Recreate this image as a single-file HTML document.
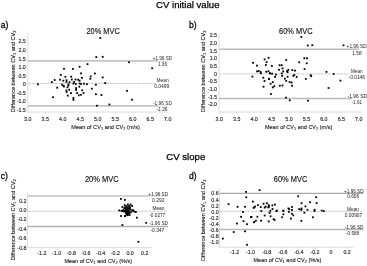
<!DOCTYPE html>
<html><head><meta charset="utf-8"><title>Bland-Altman plots</title>
<style>
html,body{margin:0;padding:0;background:#fff;}
body{width:367px;height:266px;overflow:hidden;}
svg{display:block;font-family:"Liberation Sans", sans-serif;filter:blur(0.35px);}
</style></head>
<body>
<svg width="367" height="266" viewBox="0 0 367 266">
<rect width="367" height="266" fill="#fff"/>
<text transform="translate(187.75,7.60) scale(1,1.0)" font-size="9.6" text-anchor="middle" fill="#000" font-weight="normal" textLength="63.50" lengthAdjust="spacingAndGlyphs" stroke="#000" stroke-width="0.25">CV initial value</text>
<text transform="translate(185.75,160.20) scale(1,1.0)" font-size="9.6" text-anchor="middle" fill="#000" font-weight="normal" textLength="39.10" lengthAdjust="spacingAndGlyphs" stroke="#000" stroke-width="0.25">CV slope</text>
<text transform="translate(0.80,28.00) scale(1,1.12)" font-size="8.6" text-anchor="start" fill="#000" font-weight="normal" stroke="#000" stroke-width="0.25">a)</text>
<text transform="translate(86.50,33.75) scale(1,1.12)" font-size="7.4" text-anchor="start" fill="#111" font-weight="normal" textLength="33.25" lengthAdjust="spacingAndGlyphs" stroke="#111" stroke-width="0.12">20% MVC</text>
<line x1="27.80" y1="32.50" x2="27.80" y2="112.00" stroke="#dcdcdc" stroke-width="1"/>
<line x1="27.80" y1="112.00" x2="169.00" y2="112.00" stroke="#dcdcdc" stroke-width="1"/>
<line x1="27.80" y1="112.00" x2="27.80" y2="113.50" stroke="#dcdcdc" stroke-width="1"/>
<text transform="translate(27.80,121.00) scale(1,1.12)" font-size="5.3" text-anchor="middle" fill="#222" font-weight="normal" stroke="#222" stroke-width="0.12">3.0</text>
<line x1="45.30" y1="112.00" x2="45.30" y2="113.50" stroke="#dcdcdc" stroke-width="1"/>
<text transform="translate(45.30,121.00) scale(1,1.12)" font-size="5.3" text-anchor="middle" fill="#222" font-weight="normal" stroke="#222" stroke-width="0.12">3.5</text>
<line x1="62.80" y1="112.00" x2="62.80" y2="113.50" stroke="#dcdcdc" stroke-width="1"/>
<text transform="translate(62.80,121.00) scale(1,1.12)" font-size="5.3" text-anchor="middle" fill="#222" font-weight="normal" stroke="#222" stroke-width="0.12">4.0</text>
<line x1="80.30" y1="112.00" x2="80.30" y2="113.50" stroke="#dcdcdc" stroke-width="1"/>
<text transform="translate(80.30,121.00) scale(1,1.12)" font-size="5.3" text-anchor="middle" fill="#222" font-weight="normal" stroke="#222" stroke-width="0.12">4.5</text>
<line x1="97.80" y1="112.00" x2="97.80" y2="113.50" stroke="#dcdcdc" stroke-width="1"/>
<text transform="translate(97.80,121.00) scale(1,1.12)" font-size="5.3" text-anchor="middle" fill="#222" font-weight="normal" stroke="#222" stroke-width="0.12">5.0</text>
<line x1="115.30" y1="112.00" x2="115.30" y2="113.50" stroke="#dcdcdc" stroke-width="1"/>
<text transform="translate(115.30,121.00) scale(1,1.12)" font-size="5.3" text-anchor="middle" fill="#222" font-weight="normal" stroke="#222" stroke-width="0.12">5.5</text>
<line x1="132.80" y1="112.00" x2="132.80" y2="113.50" stroke="#dcdcdc" stroke-width="1"/>
<text transform="translate(132.80,121.00) scale(1,1.12)" font-size="5.3" text-anchor="middle" fill="#222" font-weight="normal" stroke="#222" stroke-width="0.12">6.0</text>
<line x1="150.30" y1="112.00" x2="150.30" y2="113.50" stroke="#dcdcdc" stroke-width="1"/>
<text transform="translate(150.30,121.00) scale(1,1.12)" font-size="5.3" text-anchor="middle" fill="#222" font-weight="normal" stroke="#222" stroke-width="0.12">6.5</text>
<line x1="167.80" y1="112.00" x2="167.80" y2="113.50" stroke="#dcdcdc" stroke-width="1"/>
<text transform="translate(167.80,121.00) scale(1,1.12)" font-size="5.3" text-anchor="middle" fill="#222" font-weight="normal" stroke="#222" stroke-width="0.12">7.0</text>
<text transform="translate(25.80,43.46) scale(1,1.12)" font-size="5.3" text-anchor="end" fill="#222" font-weight="normal" stroke="#222" stroke-width="0.12">2.5</text>
<text transform="translate(25.80,52.01) scale(1,1.12)" font-size="5.3" text-anchor="end" fill="#222" font-weight="normal" stroke="#222" stroke-width="0.12">2.0</text>
<text transform="translate(25.80,60.56) scale(1,1.12)" font-size="5.3" text-anchor="end" fill="#222" font-weight="normal" stroke="#222" stroke-width="0.12">1.5</text>
<text transform="translate(25.80,69.11) scale(1,1.12)" font-size="5.3" text-anchor="end" fill="#222" font-weight="normal" stroke="#222" stroke-width="0.12">1.0</text>
<text transform="translate(25.80,77.66) scale(1,1.12)" font-size="5.3" text-anchor="end" fill="#222" font-weight="normal" stroke="#222" stroke-width="0.12">0.5</text>
<text transform="translate(25.80,86.21) scale(1,1.12)" font-size="5.3" text-anchor="end" fill="#222" font-weight="normal" stroke="#222" stroke-width="0.12">0</text>
<text transform="translate(25.80,94.76) scale(1,1.12)" font-size="5.3" text-anchor="end" fill="#222" font-weight="normal" stroke="#222" stroke-width="0.12">-0.5</text>
<text transform="translate(25.80,103.31) scale(1,1.12)" font-size="5.3" text-anchor="end" fill="#222" font-weight="normal" stroke="#222" stroke-width="0.12">-1.0</text>
<text transform="translate(25.80,111.86) scale(1,1.12)" font-size="5.3" text-anchor="end" fill="#222" font-weight="normal" stroke="#222" stroke-width="0.12">-1.5</text>
<line x1="27.80" y1="60.90" x2="158.00" y2="60.90" stroke="#c3c3c3" stroke-width="1.6"/>
<line x1="27.80" y1="105.85" x2="158.00" y2="105.85" stroke="#c3c3c3" stroke-width="1.6"/>
<line x1="27.80" y1="83.45" x2="155.50" y2="83.45" stroke="#cacaca" stroke-width="1.0" stroke-dasharray="3.2,0.7"/>
<line x1="158.00" y1="61.20" x2="168.00" y2="61.20" stroke="#d2d2d2" stroke-width="0.9"/>
<line x1="158.00" y1="106.10" x2="168.00" y2="106.10" stroke="#d2d2d2" stroke-width="0.9"/>
<text transform="translate(162.38,59.76) scale(1,1.12)" font-size="4.6" text-anchor="middle" fill="#222" font-weight="normal" textLength="19.25" lengthAdjust="spacingAndGlyphs">+1.96 SD</text>
<text transform="translate(162.50,65.86) scale(1,1.12)" font-size="4.6" text-anchor="middle" fill="#222" font-weight="normal" textLength="9.00" lengthAdjust="spacingAndGlyphs">1.36</text>
<text transform="translate(162.55,82.36) scale(1,1.12)" font-size="4.6" text-anchor="middle" fill="#222" font-weight="normal" textLength="12.10" lengthAdjust="spacingAndGlyphs">Mean</text>
<text transform="translate(161.75,87.66) scale(1,1.12)" font-size="4.6" text-anchor="middle" fill="#222" font-weight="normal" textLength="15.00" lengthAdjust="spacingAndGlyphs">0.0499</text>
<text transform="translate(162.45,104.86) scale(1,1.12)" font-size="4.6" text-anchor="middle" fill="#222" font-weight="normal" textLength="18.90" lengthAdjust="spacingAndGlyphs">-1.96 SD</text>
<text transform="translate(162.00,111.26) scale(1,1.12)" font-size="4.6" text-anchor="middle" fill="#222" font-weight="normal" textLength="11.00" lengthAdjust="spacingAndGlyphs">-1.26</text>
<text transform="translate(71.30,128.70) scale(1,1.12)" font-size="5.5" text-anchor="start" fill="#222" font-weight="normal" textLength="68.55" lengthAdjust="spacingAndGlyphs" stroke="#222" stroke-width="0.12">Mean of CV<tspan font-size="3.85" dy="1.10">1</tspan><tspan dy="-1.10"> </tspan>and CV<tspan font-size="3.85" dy="1.10">2</tspan><tspan dy="-1.10"> </tspan>(m/s)</text>
<g transform="translate(15.20,71.40) rotate(-90)">
<text transform="translate(0.00,0.00) scale(1,1.12)" font-size="5.6" text-anchor="middle" fill="#222" font-weight="normal" textLength="81.80" lengthAdjust="spacingAndGlyphs" stroke="#222" stroke-width="0.12">Difference between CV<tspan font-size="3.92" dy="1.12">1</tspan><tspan dy="-1.12"> </tspan>and CV<tspan font-size="3.92" dy="1.12">2</tspan><tspan dy="-1.12"></tspan></text>
</g>
<rect x="37.00" y="83.40" width="1.8" height="1.8" fill="#000"/>
<rect x="50.90" y="81.20" width="1.8" height="1.8" fill="#000"/>
<rect x="53.80" y="79.10" width="1.8" height="1.8" fill="#000"/>
<rect x="56.30" y="86.80" width="1.8" height="1.8" fill="#000"/>
<rect x="52.10" y="96.30" width="1.8" height="1.8" fill="#000"/>
<rect x="59.90" y="74.10" width="1.8" height="1.8" fill="#000"/>
<rect x="63.10" y="67.90" width="1.8" height="1.8" fill="#000"/>
<rect x="72.10" y="68.00" width="1.8" height="1.8" fill="#000"/>
<rect x="59.10" y="78.80" width="1.8" height="1.8" fill="#000"/>
<rect x="62.40" y="79.80" width="1.8" height="1.8" fill="#000"/>
<rect x="64.50" y="75.90" width="1.8" height="1.8" fill="#000"/>
<rect x="70.30" y="75.80" width="1.8" height="1.8" fill="#000"/>
<rect x="65.60" y="79.30" width="1.8" height="1.8" fill="#000"/>
<rect x="65.60" y="81.10" width="1.8" height="1.8" fill="#000"/>
<rect x="70.90" y="78.70" width="1.8" height="1.8" fill="#000"/>
<rect x="74.60" y="78.60" width="1.8" height="1.8" fill="#000"/>
<rect x="77.20" y="78.80" width="1.8" height="1.8" fill="#000"/>
<rect x="78.70" y="79.80" width="1.8" height="1.8" fill="#000"/>
<rect x="68.70" y="81.30" width="1.8" height="1.8" fill="#000"/>
<rect x="73.20" y="81.10" width="1.8" height="1.8" fill="#000"/>
<rect x="72.50" y="82.70" width="1.8" height="1.8" fill="#000"/>
<rect x="74.90" y="83.00" width="1.8" height="1.8" fill="#000"/>
<rect x="78.70" y="82.60" width="1.8" height="1.8" fill="#000"/>
<rect x="80.10" y="83.00" width="1.8" height="1.8" fill="#000"/>
<rect x="83.10" y="82.80" width="1.8" height="1.8" fill="#000"/>
<rect x="86.00" y="83.30" width="1.8" height="1.8" fill="#000"/>
<rect x="67.60" y="83.50" width="1.8" height="1.8" fill="#000"/>
<rect x="61.20" y="83.70" width="1.8" height="1.8" fill="#000"/>
<rect x="62.60" y="84.90" width="1.8" height="1.8" fill="#000"/>
<rect x="66.60" y="86.40" width="1.8" height="1.8" fill="#000"/>
<rect x="67.40" y="84.60" width="1.8" height="1.8" fill="#000"/>
<rect x="65.50" y="89.60" width="1.8" height="1.8" fill="#000"/>
<rect x="65.70" y="91.10" width="1.8" height="1.8" fill="#000"/>
<rect x="68.30" y="88.80" width="1.8" height="1.8" fill="#000"/>
<rect x="70.00" y="92.20" width="1.8" height="1.8" fill="#000"/>
<rect x="66.90" y="94.70" width="1.8" height="1.8" fill="#000"/>
<rect x="72.40" y="97.10" width="1.8" height="1.8" fill="#000"/>
<rect x="72.60" y="99.00" width="1.8" height="1.8" fill="#000"/>
<rect x="75.20" y="87.20" width="1.8" height="1.8" fill="#000"/>
<rect x="75.20" y="89.10" width="1.8" height="1.8" fill="#000"/>
<rect x="78.40" y="85.80" width="1.8" height="1.8" fill="#000"/>
<rect x="76.20" y="92.20" width="1.8" height="1.8" fill="#000"/>
<rect x="77.90" y="94.40" width="1.8" height="1.8" fill="#000"/>
<rect x="80.10" y="93.90" width="1.8" height="1.8" fill="#000"/>
<rect x="81.30" y="89.40" width="1.8" height="1.8" fill="#000"/>
<rect x="82.60" y="92.20" width="1.8" height="1.8" fill="#000"/>
<rect x="81.10" y="76.90" width="1.8" height="1.8" fill="#000"/>
<rect x="80.10" y="72.50" width="1.8" height="1.8" fill="#000"/>
<rect x="78.70" y="65.90" width="1.8" height="1.8" fill="#000"/>
<rect x="89.80" y="75.50" width="1.8" height="1.8" fill="#000"/>
<rect x="89.40" y="77.90" width="1.8" height="1.8" fill="#000"/>
<rect x="90.90" y="87.80" width="1.8" height="1.8" fill="#000"/>
<rect x="63.00" y="85.60" width="1.8" height="1.8" fill="#000"/>
<rect x="99.40" y="37.00" width="1.8" height="1.8" fill="#000"/>
<rect x="95.40" y="56.20" width="1.8" height="1.8" fill="#000"/>
<rect x="101.80" y="55.90" width="1.8" height="1.8" fill="#000"/>
<rect x="94.00" y="72.60" width="1.8" height="1.8" fill="#000"/>
<rect x="101.80" y="76.50" width="1.8" height="1.8" fill="#000"/>
<rect x="104.30" y="82.10" width="1.8" height="1.8" fill="#000"/>
<rect x="95.00" y="83.80" width="1.8" height="1.8" fill="#000"/>
<rect x="95.00" y="93.30" width="1.8" height="1.8" fill="#000"/>
<rect x="100.50" y="94.10" width="1.8" height="1.8" fill="#000"/>
<rect x="108.50" y="103.60" width="1.8" height="1.8" fill="#000"/>
<rect x="96.00" y="104.80" width="1.8" height="1.8" fill="#000"/>
<rect x="128.10" y="61.40" width="1.8" height="1.8" fill="#000"/>
<rect x="151.30" y="67.40" width="1.8" height="1.8" fill="#000"/>
<rect x="126.20" y="89.90" width="1.8" height="1.8" fill="#000"/>
<rect x="131.10" y="98.80" width="1.8" height="1.8" fill="#000"/>
<rect x="86.60" y="63.20" width="1.8" height="1.8" fill="#000"/>
<text transform="translate(189.00,28.30) scale(1,1.12)" font-size="8.6" text-anchor="start" fill="#000" font-weight="normal" stroke="#000" stroke-width="0.25">b)</text>
<text transform="translate(279.00,33.70) scale(1,1.12)" font-size="7.4" text-anchor="start" fill="#111" font-weight="normal" textLength="33.60" lengthAdjust="spacingAndGlyphs" stroke="#111" stroke-width="0.12">60% MVC</text>
<line x1="219.00" y1="33.00" x2="219.00" y2="112.00" stroke="#dcdcdc" stroke-width="1"/>
<line x1="219.00" y1="112.00" x2="362.00" y2="112.00" stroke="#dcdcdc" stroke-width="1"/>
<line x1="219.25" y1="112.00" x2="219.25" y2="113.50" stroke="#dcdcdc" stroke-width="1"/>
<text transform="translate(219.25,121.00) scale(1,1.12)" font-size="5.3" text-anchor="middle" fill="#222" font-weight="normal" stroke="#222" stroke-width="0.12">3.0</text>
<line x1="236.69" y1="112.00" x2="236.69" y2="113.50" stroke="#dcdcdc" stroke-width="1"/>
<text transform="translate(236.69,121.00) scale(1,1.12)" font-size="5.3" text-anchor="middle" fill="#222" font-weight="normal" stroke="#222" stroke-width="0.12">3.5</text>
<line x1="254.13" y1="112.00" x2="254.13" y2="113.50" stroke="#dcdcdc" stroke-width="1"/>
<text transform="translate(254.13,121.00) scale(1,1.12)" font-size="5.3" text-anchor="middle" fill="#222" font-weight="normal" stroke="#222" stroke-width="0.12">4.0</text>
<line x1="271.57" y1="112.00" x2="271.57" y2="113.50" stroke="#dcdcdc" stroke-width="1"/>
<text transform="translate(271.57,121.00) scale(1,1.12)" font-size="5.3" text-anchor="middle" fill="#222" font-weight="normal" stroke="#222" stroke-width="0.12">4.5</text>
<line x1="289.01" y1="112.00" x2="289.01" y2="113.50" stroke="#dcdcdc" stroke-width="1"/>
<text transform="translate(289.01,121.00) scale(1,1.12)" font-size="5.3" text-anchor="middle" fill="#222" font-weight="normal" stroke="#222" stroke-width="0.12">5.0</text>
<line x1="306.45" y1="112.00" x2="306.45" y2="113.50" stroke="#dcdcdc" stroke-width="1"/>
<text transform="translate(306.45,121.00) scale(1,1.12)" font-size="5.3" text-anchor="middle" fill="#222" font-weight="normal" stroke="#222" stroke-width="0.12">5.5</text>
<line x1="323.89" y1="112.00" x2="323.89" y2="113.50" stroke="#dcdcdc" stroke-width="1"/>
<text transform="translate(323.89,121.00) scale(1,1.12)" font-size="5.3" text-anchor="middle" fill="#222" font-weight="normal" stroke="#222" stroke-width="0.12">6.0</text>
<line x1="341.33" y1="112.00" x2="341.33" y2="113.50" stroke="#dcdcdc" stroke-width="1"/>
<text transform="translate(341.33,121.00) scale(1,1.12)" font-size="5.3" text-anchor="middle" fill="#222" font-weight="normal" stroke="#222" stroke-width="0.12">6.5</text>
<line x1="358.77" y1="112.00" x2="358.77" y2="113.50" stroke="#dcdcdc" stroke-width="1"/>
<text transform="translate(358.77,121.00) scale(1,1.12)" font-size="5.3" text-anchor="middle" fill="#222" font-weight="normal" stroke="#222" stroke-width="0.12">7.0</text>
<text transform="translate(217.00,37.21) scale(1,1.12)" font-size="5.3" text-anchor="end" fill="#222" font-weight="normal" stroke="#222" stroke-width="0.12">2.5</text>
<text transform="translate(217.00,44.89) scale(1,1.12)" font-size="5.3" text-anchor="end" fill="#222" font-weight="normal" stroke="#222" stroke-width="0.12">2.0</text>
<text transform="translate(217.00,52.57) scale(1,1.12)" font-size="5.3" text-anchor="end" fill="#222" font-weight="normal" stroke="#222" stroke-width="0.12">1.5</text>
<text transform="translate(217.00,60.25) scale(1,1.12)" font-size="5.3" text-anchor="end" fill="#222" font-weight="normal" stroke="#222" stroke-width="0.12">1.0</text>
<text transform="translate(217.00,67.93) scale(1,1.12)" font-size="5.3" text-anchor="end" fill="#222" font-weight="normal" stroke="#222" stroke-width="0.12">0.5</text>
<text transform="translate(217.00,75.61) scale(1,1.12)" font-size="5.3" text-anchor="end" fill="#222" font-weight="normal" stroke="#222" stroke-width="0.12">0</text>
<text transform="translate(217.00,83.29) scale(1,1.12)" font-size="5.3" text-anchor="end" fill="#222" font-weight="normal" stroke="#222" stroke-width="0.12">-0.5</text>
<text transform="translate(217.00,90.97) scale(1,1.12)" font-size="5.3" text-anchor="end" fill="#222" font-weight="normal" stroke="#222" stroke-width="0.12">-1.0</text>
<text transform="translate(217.00,98.65) scale(1,1.12)" font-size="5.3" text-anchor="end" fill="#222" font-weight="normal" stroke="#222" stroke-width="0.12">-1.5</text>
<text transform="translate(217.00,106.33) scale(1,1.12)" font-size="5.3" text-anchor="end" fill="#222" font-weight="normal" stroke="#222" stroke-width="0.12">-2.0</text>
<line x1="219.00" y1="49.35" x2="358.50" y2="49.35" stroke="#bababa" stroke-width="1.5"/>
<line x1="219.00" y1="98.55" x2="352.00" y2="98.55" stroke="#bababa" stroke-width="1.5"/>
<line x1="219.00" y1="73.90" x2="349.00" y2="73.90" stroke="#cacaca" stroke-width="1.0" stroke-dasharray="3.2,0.7"/>
<text transform="translate(356.60,47.91) scale(1,1.12)" font-size="4.6" text-anchor="middle" fill="#222" font-weight="normal" textLength="20.00" lengthAdjust="spacingAndGlyphs">+1.96 SD</text>
<text transform="translate(356.93,54.76) scale(1,1.12)" font-size="4.6" text-anchor="middle" fill="#222" font-weight="normal" textLength="9.35" lengthAdjust="spacingAndGlyphs">1.58</text>
<text transform="translate(356.80,72.91) scale(1,1.12)" font-size="4.6" text-anchor="middle" fill="#222" font-weight="normal" textLength="11.60" lengthAdjust="spacingAndGlyphs">Mean</text>
<text transform="translate(356.75,78.91) scale(1,1.12)" font-size="4.6" text-anchor="middle" fill="#222" font-weight="normal" textLength="16.50" lengthAdjust="spacingAndGlyphs">-0.0146</text>
<text transform="translate(357.35,97.66) scale(1,1.12)" font-size="4.6" text-anchor="middle" fill="#222" font-weight="normal" textLength="19.70" lengthAdjust="spacingAndGlyphs">-1.96 SD</text>
<text transform="translate(356.80,103.56) scale(1,1.12)" font-size="4.6" text-anchor="middle" fill="#222" font-weight="normal" textLength="10.40" lengthAdjust="spacingAndGlyphs">-1.61</text>
<text transform="translate(264.90,128.60) scale(1,1.12)" font-size="5.5" text-anchor="start" fill="#222" font-weight="normal" textLength="67.40" lengthAdjust="spacingAndGlyphs" stroke="#222" stroke-width="0.12">Mean of CV<tspan font-size="3.85" dy="1.10">1</tspan><tspan dy="-1.10"> </tspan>and CV<tspan font-size="3.85" dy="1.10">2</tspan><tspan dy="-1.10"> </tspan>(m/s)</text>
<g transform="translate(204.60,71.40) rotate(-90)">
<text transform="translate(0.00,0.00) scale(1,1.12)" font-size="5.6" text-anchor="middle" fill="#222" font-weight="normal" textLength="81.80" lengthAdjust="spacingAndGlyphs" stroke="#222" stroke-width="0.12">Difference between CV<tspan font-size="3.92" dy="1.12">1</tspan><tspan dy="-1.12"> </tspan>and CV<tspan font-size="3.92" dy="1.12">2</tspan><tspan dy="-1.12"></tspan></text>
</g>
<rect x="252.20" y="61.90" width="1.8" height="1.8" fill="#000"/>
<rect x="256.00" y="64.70" width="1.8" height="1.8" fill="#000"/>
<rect x="263.70" y="58.50" width="1.8" height="1.8" fill="#000"/>
<rect x="267.70" y="56.90" width="1.8" height="1.8" fill="#000"/>
<rect x="265.70" y="61.20" width="1.8" height="1.8" fill="#000"/>
<rect x="265.00" y="64.10" width="1.8" height="1.8" fill="#000"/>
<rect x="256.20" y="70.50" width="1.8" height="1.8" fill="#000"/>
<rect x="257.70" y="70.00" width="1.8" height="1.8" fill="#000"/>
<rect x="259.60" y="71.00" width="1.8" height="1.8" fill="#000"/>
<rect x="260.10" y="72.30" width="1.8" height="1.8" fill="#000"/>
<rect x="265.30" y="70.90" width="1.8" height="1.8" fill="#000"/>
<rect x="267.50" y="70.30" width="1.8" height="1.8" fill="#000"/>
<rect x="268.90" y="72.30" width="1.8" height="1.8" fill="#000"/>
<rect x="251.50" y="75.70" width="1.8" height="1.8" fill="#000"/>
<rect x="262.40" y="76.80" width="1.8" height="1.8" fill="#000"/>
<rect x="263.60" y="80.10" width="1.8" height="1.8" fill="#000"/>
<rect x="268.00" y="77.90" width="1.8" height="1.8" fill="#000"/>
<rect x="262.60" y="85.80" width="1.8" height="1.8" fill="#000"/>
<rect x="269.70" y="82.80" width="1.8" height="1.8" fill="#000"/>
<rect x="271.90" y="81.30" width="1.8" height="1.8" fill="#000"/>
<rect x="271.90" y="86.50" width="1.8" height="1.8" fill="#000"/>
<rect x="273.40" y="85.30" width="1.8" height="1.8" fill="#000"/>
<rect x="270.00" y="93.10" width="1.8" height="1.8" fill="#000"/>
<rect x="268.10" y="78.10" width="1.8" height="1.8" fill="#000"/>
<rect x="274.20" y="76.00" width="1.8" height="1.8" fill="#000"/>
<rect x="275.00" y="73.70" width="1.8" height="1.8" fill="#000"/>
<rect x="281.30" y="75.00" width="1.8" height="1.8" fill="#000"/>
<rect x="284.00" y="77.70" width="1.8" height="1.8" fill="#000"/>
<rect x="285.30" y="79.90" width="1.8" height="1.8" fill="#000"/>
<rect x="286.70" y="75.80" width="1.8" height="1.8" fill="#000"/>
<rect x="288.70" y="81.10" width="1.8" height="1.8" fill="#000"/>
<rect x="290.70" y="81.70" width="1.8" height="1.8" fill="#000"/>
<rect x="291.10" y="84.80" width="1.8" height="1.8" fill="#000"/>
<rect x="278.90" y="84.80" width="1.8" height="1.8" fill="#000"/>
<rect x="281.60" y="84.60" width="1.8" height="1.8" fill="#000"/>
<rect x="292.40" y="75.00" width="1.8" height="1.8" fill="#000"/>
<rect x="293.40" y="74.00" width="1.8" height="1.8" fill="#000"/>
<rect x="295.80" y="76.00" width="1.8" height="1.8" fill="#000"/>
<rect x="285.30" y="59.10" width="1.8" height="1.8" fill="#000"/>
<rect x="298.30" y="61.40" width="1.8" height="1.8" fill="#000"/>
<rect x="271.00" y="65.00" width="1.8" height="1.8" fill="#000"/>
<rect x="278.70" y="64.30" width="1.8" height="1.8" fill="#000"/>
<rect x="280.80" y="64.30" width="1.8" height="1.8" fill="#000"/>
<rect x="281.60" y="67.50" width="1.8" height="1.8" fill="#000"/>
<rect x="278.10" y="68.90" width="1.8" height="1.8" fill="#000"/>
<rect x="269.10" y="72.50" width="1.8" height="1.8" fill="#000"/>
<rect x="271.20" y="72.80" width="1.8" height="1.8" fill="#000"/>
<rect x="280.80" y="72.50" width="1.8" height="1.8" fill="#000"/>
<rect x="282.30" y="70.50" width="1.8" height="1.8" fill="#000"/>
<rect x="286.20" y="70.20" width="1.8" height="1.8" fill="#000"/>
<rect x="287.50" y="68.90" width="1.8" height="1.8" fill="#000"/>
<rect x="286.70" y="71.20" width="1.8" height="1.8" fill="#000"/>
<rect x="291.40" y="69.20" width="1.8" height="1.8" fill="#000"/>
<rect x="294.10" y="69.70" width="1.8" height="1.8" fill="#000"/>
<rect x="285.10" y="96.70" width="1.8" height="1.8" fill="#000"/>
<rect x="288.80" y="99.40" width="1.8" height="1.8" fill="#000"/>
<rect x="300.40" y="36.10" width="1.8" height="1.8" fill="#000"/>
<rect x="306.90" y="44.60" width="1.8" height="1.8" fill="#000"/>
<rect x="311.40" y="44.30" width="1.8" height="1.8" fill="#000"/>
<rect x="303.40" y="57.30" width="1.8" height="1.8" fill="#000"/>
<rect x="306.10" y="57.30" width="1.8" height="1.8" fill="#000"/>
<rect x="305.90" y="62.40" width="1.8" height="1.8" fill="#000"/>
<rect x="303.70" y="68.20" width="1.8" height="1.8" fill="#000"/>
<rect x="309.80" y="74.30" width="1.8" height="1.8" fill="#000"/>
<rect x="310.30" y="75.30" width="1.8" height="1.8" fill="#000"/>
<rect x="304.90" y="78.00" width="1.8" height="1.8" fill="#000"/>
<rect x="325.60" y="71.00" width="1.8" height="1.8" fill="#000"/>
<rect x="327.60" y="87.10" width="1.8" height="1.8" fill="#000"/>
<rect x="307.10" y="99.80" width="1.8" height="1.8" fill="#000"/>
<rect x="342.60" y="44.40" width="1.8" height="1.8" fill="#000"/>
<rect x="332.80" y="73.10" width="1.8" height="1.8" fill="#000"/>
<rect x="339.50" y="79.70" width="1.8" height="1.8" fill="#000"/>
<text transform="translate(0.80,178.90) scale(1,1.12)" font-size="8.6" text-anchor="start" fill="#000" font-weight="normal" stroke="#000" stroke-width="0.25">c)</text>
<text transform="translate(84.90,181.80) scale(1,1.12)" font-size="7.4" text-anchor="start" fill="#111" font-weight="normal" textLength="33.90" lengthAdjust="spacingAndGlyphs" stroke="#111" stroke-width="0.12">20% MVC</text>
<line x1="27.50" y1="192.50" x2="27.50" y2="247.50" stroke="#dcdcdc" stroke-width="1"/>
<line x1="27.50" y1="247.40" x2="151.50" y2="247.40" stroke="#dcdcdc" stroke-width="1"/>
<line x1="41.90" y1="247.40" x2="41.90" y2="248.90" stroke="#dcdcdc" stroke-width="1"/>
<text transform="translate(41.90,254.90) scale(1,1.12)" font-size="5.3" text-anchor="middle" fill="#222" font-weight="normal" stroke="#222" stroke-width="0.12">-1.2</text>
<line x1="56.60" y1="247.40" x2="56.60" y2="248.90" stroke="#dcdcdc" stroke-width="1"/>
<text transform="translate(56.60,254.90) scale(1,1.12)" font-size="5.3" text-anchor="middle" fill="#222" font-weight="normal" stroke="#222" stroke-width="0.12">-1.0</text>
<line x1="71.30" y1="247.40" x2="71.30" y2="248.90" stroke="#dcdcdc" stroke-width="1"/>
<text transform="translate(71.30,254.90) scale(1,1.12)" font-size="5.3" text-anchor="middle" fill="#222" font-weight="normal" stroke="#222" stroke-width="0.12">-0.8</text>
<line x1="86.00" y1="247.40" x2="86.00" y2="248.90" stroke="#dcdcdc" stroke-width="1"/>
<text transform="translate(86.00,254.90) scale(1,1.12)" font-size="5.3" text-anchor="middle" fill="#222" font-weight="normal" stroke="#222" stroke-width="0.12">-0.6</text>
<line x1="100.70" y1="247.40" x2="100.70" y2="248.90" stroke="#dcdcdc" stroke-width="1"/>
<text transform="translate(100.70,254.90) scale(1,1.12)" font-size="5.3" text-anchor="middle" fill="#222" font-weight="normal" stroke="#222" stroke-width="0.12">-0.4</text>
<line x1="115.40" y1="247.40" x2="115.40" y2="248.90" stroke="#dcdcdc" stroke-width="1"/>
<text transform="translate(115.40,254.90) scale(1,1.12)" font-size="5.3" text-anchor="middle" fill="#222" font-weight="normal" stroke="#222" stroke-width="0.12">-0.2</text>
<line x1="130.10" y1="247.40" x2="130.10" y2="248.90" stroke="#dcdcdc" stroke-width="1"/>
<text transform="translate(130.10,254.90) scale(1,1.12)" font-size="5.3" text-anchor="middle" fill="#222" font-weight="normal" stroke="#222" stroke-width="0.12">0.0</text>
<line x1="144.80" y1="247.40" x2="144.80" y2="248.90" stroke="#dcdcdc" stroke-width="1"/>
<text transform="translate(144.80,254.90) scale(1,1.12)" font-size="5.3" text-anchor="middle" fill="#222" font-weight="normal" stroke="#222" stroke-width="0.12">0.2</text>
<text transform="translate(26.50,202.51) scale(1,1.12)" font-size="5.3" text-anchor="end" fill="#222" font-weight="normal" stroke="#222" stroke-width="0.12">0.2</text>
<text transform="translate(26.50,211.91) scale(1,1.12)" font-size="5.3" text-anchor="end" fill="#222" font-weight="normal" stroke="#222" stroke-width="0.12">0.0</text>
<text transform="translate(26.50,221.31) scale(1,1.12)" font-size="5.3" text-anchor="end" fill="#222" font-weight="normal" stroke="#222" stroke-width="0.12">-0.2</text>
<text transform="translate(26.50,230.71) scale(1,1.12)" font-size="5.3" text-anchor="end" fill="#222" font-weight="normal" stroke="#222" stroke-width="0.12">-0.4</text>
<text transform="translate(26.50,240.11) scale(1,1.12)" font-size="5.3" text-anchor="end" fill="#222" font-weight="normal" stroke="#222" stroke-width="0.12">-0.6</text>
<text transform="translate(26.50,249.51) scale(1,1.12)" font-size="5.3" text-anchor="end" fill="#222" font-weight="normal" stroke="#222" stroke-width="0.12">-0.8</text>
<line x1="27.50" y1="196.00" x2="150.00" y2="196.00" stroke="#c3c3c3" stroke-width="1.6"/>
<line x1="27.50" y1="226.50" x2="168.00" y2="226.50" stroke="#b2b2b2" stroke-width="1.3"/>
<line x1="27.50" y1="211.20" x2="167.00" y2="211.20" stroke="#cacaca" stroke-width="1.0" stroke-dasharray="3.2,0.7"/>
<line x1="150.00" y1="196.00" x2="168.00" y2="196.00" stroke="#cfcfcf" stroke-width="0.8"/>
<text transform="translate(158.30,195.86) scale(1,1.12)" font-size="4.6" text-anchor="middle" fill="#222" font-weight="normal" textLength="19.40" lengthAdjust="spacingAndGlyphs">+1.96 SD</text>
<text transform="translate(158.25,201.66) scale(1,1.12)" font-size="4.6" text-anchor="middle" fill="#222" font-weight="normal" textLength="12.50" lengthAdjust="spacingAndGlyphs">0.292</text>
<text transform="translate(158.45,210.41) scale(1,1.12)" font-size="4.6" text-anchor="middle" fill="#222" font-weight="normal" textLength="12.10" lengthAdjust="spacingAndGlyphs">Mean</text>
<text transform="translate(157.25,216.66) scale(1,1.12)" font-size="4.6" text-anchor="middle" fill="#222" font-weight="normal" textLength="16.00" lengthAdjust="spacingAndGlyphs">-0.0277</text>
<text transform="translate(158.62,224.76) scale(1,1.12)" font-size="4.6" text-anchor="middle" fill="#222" font-weight="normal" textLength="18.75" lengthAdjust="spacingAndGlyphs">-1.96 SD</text>
<text transform="translate(157.38,231.66) scale(1,1.12)" font-size="4.6" text-anchor="middle" fill="#222" font-weight="normal" textLength="13.75" lengthAdjust="spacingAndGlyphs">-0.347</text>
<text transform="translate(64.40,263.00) scale(1,1.12)" font-size="5.5" text-anchor="start" fill="#222" font-weight="normal" textLength="67.70" lengthAdjust="spacingAndGlyphs" stroke="#222" stroke-width="0.12">Mean of CV<tspan font-size="3.85" dy="1.10">1</tspan><tspan dy="-1.10"> </tspan>and CV<tspan font-size="3.85" dy="1.10">2</tspan><tspan dy="-1.10"> </tspan>(%/s)</text>
<g transform="translate(15.00,219.95) rotate(-90)">
<text transform="translate(0.00,0.00) scale(1,1.12)" font-size="5.6" text-anchor="middle" fill="#222" font-weight="normal" textLength="81.30" lengthAdjust="spacingAndGlyphs" stroke="#222" stroke-width="0.12">Difference between CV<tspan font-size="3.92" dy="1.12">1</tspan><tspan dy="-1.12"> </tspan>and CV<tspan font-size="3.92" dy="1.12">2</tspan><tspan dy="-1.12"></tspan></text>
</g>
<rect x="120.00" y="198.00" width="1.8" height="1.8" fill="#000"/>
<rect x="124.00" y="199.00" width="1.8" height="1.8" fill="#000"/>
<rect x="118.30" y="209.50" width="1.8" height="1.8" fill="#000"/>
<rect x="120.10" y="215.10" width="1.8" height="1.8" fill="#000"/>
<rect x="124.10" y="215.10" width="1.8" height="1.8" fill="#000"/>
<rect x="136.00" y="216.80" width="1.8" height="1.8" fill="#000"/>
<rect x="145.30" y="221.90" width="1.8" height="1.8" fill="#000"/>
<rect x="121.50" y="224.20" width="1.8" height="1.8" fill="#000"/>
<rect x="137.50" y="240.90" width="1.8" height="1.8" fill="#000"/>
<rect x="123.80" y="204.30" width="1.8" height="1.8" fill="#000"/>
<rect x="127.00" y="203.50" width="1.8" height="1.8" fill="#000"/>
<rect x="129.60" y="203.50" width="1.8" height="1.8" fill="#000"/>
<rect x="131.20" y="205.00" width="1.8" height="1.8" fill="#000"/>
<rect x="121.50" y="206.10" width="1.8" height="1.8" fill="#000"/>
<rect x="120.50" y="209.90" width="1.8" height="1.8" fill="#000"/>
<rect x="132.30" y="209.60" width="1.8" height="1.8" fill="#000"/>
<rect x="133.30" y="210.60" width="1.8" height="1.8" fill="#000"/>
<rect x="135.00" y="211.10" width="1.8" height="1.8" fill="#000"/>
<rect x="130.60" y="210.60" width="1.8" height="1.8" fill="#000"/>
<rect x="128.60" y="207.90" width="1.8" height="1.8" fill="#000"/>
<rect x="124.60" y="206.10" width="1.8" height="1.8" fill="#000"/>
<rect x="125.60" y="205.10" width="1.8" height="1.8" fill="#000"/>
<rect x="126.60" y="206.60" width="1.8" height="1.8" fill="#000"/>
<rect x="127.60" y="205.60" width="1.8" height="1.8" fill="#000"/>
<rect x="128.60" y="205.10" width="1.8" height="1.8" fill="#000"/>
<rect x="124.60" y="208.10" width="1.8" height="1.8" fill="#000"/>
<rect x="125.60" y="207.60" width="1.8" height="1.8" fill="#000"/>
<rect x="126.60" y="208.60" width="1.8" height="1.8" fill="#000"/>
<rect x="127.60" y="207.60" width="1.8" height="1.8" fill="#000"/>
<rect x="129.60" y="208.60" width="1.8" height="1.8" fill="#000"/>
<rect x="124.10" y="210.10" width="1.8" height="1.8" fill="#000"/>
<rect x="125.10" y="209.60" width="1.8" height="1.8" fill="#000"/>
<rect x="126.10" y="210.60" width="1.8" height="1.8" fill="#000"/>
<rect x="127.10" y="209.60" width="1.8" height="1.8" fill="#000"/>
<rect x="128.10" y="210.10" width="1.8" height="1.8" fill="#000"/>
<rect x="125.10" y="211.60" width="1.8" height="1.8" fill="#000"/>
<rect x="126.10" y="212.60" width="1.8" height="1.8" fill="#000"/>
<rect x="127.10" y="211.60" width="1.8" height="1.8" fill="#000"/>
<rect x="128.10" y="212.10" width="1.8" height="1.8" fill="#000"/>
<rect x="125.60" y="213.60" width="1.8" height="1.8" fill="#000"/>
<rect x="127.10" y="213.60" width="1.8" height="1.8" fill="#000"/>
<rect x="122.60" y="208.60" width="1.8" height="1.8" fill="#000"/>
<rect x="123.10" y="210.60" width="1.8" height="1.8" fill="#000"/>
<rect x="121.90" y="210.10" width="1.8" height="1.8" fill="#000"/>
<rect x="129.60" y="211.60" width="1.8" height="1.8" fill="#000"/>
<rect x="131.60" y="209.10" width="1.8" height="1.8" fill="#000"/>
<rect x="123.60" y="207.10" width="1.8" height="1.8" fill="#000"/>
<rect x="129.10" y="206.60" width="1.8" height="1.8" fill="#000"/>
<rect x="126.60" y="214.30" width="1.8" height="1.8" fill="#000"/>
<rect x="127.80" y="213.30" width="1.8" height="1.8" fill="#000"/>
<rect x="125.40" y="212.70" width="1.8" height="1.8" fill="#000"/>
<rect x="128.70" y="214.10" width="1.8" height="1.8" fill="#000"/>
<rect x="123.90" y="215.20" width="1.8" height="1.8" fill="#000"/>
<text transform="translate(189.00,179.00) scale(1,1.12)" font-size="8.6" text-anchor="start" fill="#000" font-weight="normal" stroke="#000" stroke-width="0.25">d)</text>
<text transform="translate(273.80,182.00) scale(1,1.12)" font-size="7.4" text-anchor="start" fill="#111" font-weight="normal" textLength="33.50" lengthAdjust="spacingAndGlyphs" stroke="#111" stroke-width="0.12">60% MVC</text>
<line x1="219.50" y1="187.50" x2="219.50" y2="247.30" stroke="#dcdcdc" stroke-width="1"/>
<line x1="219.50" y1="247.30" x2="353.50" y2="247.30" stroke="#dcdcdc" stroke-width="1"/>
<line x1="234.52" y1="247.30" x2="234.52" y2="248.80" stroke="#dcdcdc" stroke-width="1"/>
<text transform="translate(234.52,253.60) scale(1,1.12)" font-size="5.3" text-anchor="middle" fill="#222" font-weight="normal" stroke="#222" stroke-width="0.12">-1.2</text>
<line x1="250.60" y1="247.30" x2="250.60" y2="248.80" stroke="#dcdcdc" stroke-width="1"/>
<text transform="translate(250.60,253.60) scale(1,1.12)" font-size="5.3" text-anchor="middle" fill="#222" font-weight="normal" stroke="#222" stroke-width="0.12">-1.0</text>
<line x1="266.68" y1="247.30" x2="266.68" y2="248.80" stroke="#dcdcdc" stroke-width="1"/>
<text transform="translate(266.68,253.60) scale(1,1.12)" font-size="5.3" text-anchor="middle" fill="#222" font-weight="normal" stroke="#222" stroke-width="0.12">-0.8</text>
<line x1="282.76" y1="247.30" x2="282.76" y2="248.80" stroke="#dcdcdc" stroke-width="1"/>
<text transform="translate(282.76,253.60) scale(1,1.12)" font-size="5.3" text-anchor="middle" fill="#222" font-weight="normal" stroke="#222" stroke-width="0.12">-0.6</text>
<line x1="298.84" y1="247.30" x2="298.84" y2="248.80" stroke="#dcdcdc" stroke-width="1"/>
<text transform="translate(298.84,253.60) scale(1,1.12)" font-size="5.3" text-anchor="middle" fill="#222" font-weight="normal" stroke="#222" stroke-width="0.12">-0.4</text>
<line x1="314.92" y1="247.30" x2="314.92" y2="248.80" stroke="#dcdcdc" stroke-width="1"/>
<text transform="translate(314.92,253.60) scale(1,1.12)" font-size="5.3" text-anchor="middle" fill="#222" font-weight="normal" stroke="#222" stroke-width="0.12">-0.2</text>
<line x1="331.00" y1="247.30" x2="331.00" y2="248.80" stroke="#dcdcdc" stroke-width="1"/>
<text transform="translate(331.00,253.60) scale(1,1.12)" font-size="5.3" text-anchor="middle" fill="#222" font-weight="normal" stroke="#222" stroke-width="0.12">0</text>
<line x1="347.08" y1="247.30" x2="347.08" y2="248.80" stroke="#dcdcdc" stroke-width="1"/>
<text transform="translate(347.08,253.60) scale(1,1.12)" font-size="5.3" text-anchor="middle" fill="#222" font-weight="normal" stroke="#222" stroke-width="0.12">0.2</text>
<text transform="translate(218.60,195.47) scale(1,1.12)" font-size="5.3" text-anchor="end" fill="#222" font-weight="normal" stroke="#222" stroke-width="0.12">0.6</text>
<text transform="translate(218.60,201.55) scale(1,1.12)" font-size="5.3" text-anchor="end" fill="#222" font-weight="normal" stroke="#222" stroke-width="0.12">0.4</text>
<text transform="translate(218.60,207.63) scale(1,1.12)" font-size="5.3" text-anchor="end" fill="#222" font-weight="normal" stroke="#222" stroke-width="0.12">0.2</text>
<text transform="translate(218.60,213.71) scale(1,1.12)" font-size="5.3" text-anchor="end" fill="#222" font-weight="normal" stroke="#222" stroke-width="0.12">0.0</text>
<text transform="translate(218.60,219.79) scale(1,1.12)" font-size="5.3" text-anchor="end" fill="#222" font-weight="normal" stroke="#222" stroke-width="0.12">-0.2</text>
<text transform="translate(218.60,225.87) scale(1,1.12)" font-size="5.3" text-anchor="end" fill="#222" font-weight="normal" stroke="#222" stroke-width="0.12">-0.4</text>
<text transform="translate(218.60,231.95) scale(1,1.12)" font-size="5.3" text-anchor="end" fill="#222" font-weight="normal" stroke="#222" stroke-width="0.12">-0.6</text>
<text transform="translate(218.60,238.03) scale(1,1.12)" font-size="5.3" text-anchor="end" fill="#222" font-weight="normal" stroke="#222" stroke-width="0.12">-0.8</text>
<text transform="translate(218.60,244.11) scale(1,1.12)" font-size="5.3" text-anchor="end" fill="#222" font-weight="normal" stroke="#222" stroke-width="0.12">-1.0</text>
<line x1="219.50" y1="193.45" x2="363.50" y2="193.45" stroke="#a8a8a8" stroke-width="1.2"/>
<line x1="219.50" y1="229.45" x2="363.50" y2="229.45" stroke="#b8b8b8" stroke-width="1.4"/>
<line x1="219.50" y1="211.30" x2="362.00" y2="211.30" stroke="#cacaca" stroke-width="1.0" stroke-dasharray="3.2,0.7"/>
<text transform="translate(353.80,192.66) scale(1,1.12)" font-size="4.6" text-anchor="middle" fill="#222" font-weight="normal" textLength="19.40" lengthAdjust="spacingAndGlyphs">+1.96 SD</text>
<text transform="translate(353.18,197.91) scale(1,1.12)" font-size="4.6" text-anchor="middle" fill="#222" font-weight="normal" textLength="11.85" lengthAdjust="spacingAndGlyphs">0.606</text>
<text transform="translate(353.00,211.16) scale(1,1.12)" font-size="4.6" text-anchor="middle" fill="#222" font-weight="normal" textLength="12.00" lengthAdjust="spacingAndGlyphs">Mean</text>
<text transform="translate(353.50,216.66) scale(1,1.12)" font-size="4.6" text-anchor="middle" fill="#222" font-weight="normal" textLength="17.50" lengthAdjust="spacingAndGlyphs">0.00907</text>
<text transform="translate(354.12,228.56) scale(1,1.12)" font-size="4.6" text-anchor="middle" fill="#222" font-weight="normal" textLength="18.75" lengthAdjust="spacingAndGlyphs">-1.96 SD</text>
<text transform="translate(352.55,234.76) scale(1,1.12)" font-size="4.6" text-anchor="middle" fill="#222" font-weight="normal" textLength="13.10" lengthAdjust="spacingAndGlyphs">-0.588</text>
<text transform="translate(253.50,262.00) scale(1,1.12)" font-size="5.5" text-anchor="start" fill="#222" font-weight="normal" textLength="67.80" lengthAdjust="spacingAndGlyphs" stroke="#222" stroke-width="0.12">Mean of CV<tspan font-size="3.85" dy="1.10">1</tspan><tspan dy="-1.10"> </tspan>and CV<tspan font-size="3.85" dy="1.10">2</tspan><tspan dy="-1.10"> </tspan>(%/s)</text>
<g transform="translate(205.00,220.30) rotate(-90)">
<text transform="translate(0.00,0.00) scale(1,1.12)" font-size="5.6" text-anchor="middle" fill="#222" font-weight="normal" textLength="81.20" lengthAdjust="spacingAndGlyphs" stroke="#222" stroke-width="0.12">Difference between CV<tspan font-size="3.92" dy="1.12">1</tspan><tspan dy="-1.12"> </tspan>and CV<tspan font-size="3.92" dy="1.12">2</tspan><tspan dy="-1.12"></tspan></text>
</g>
<rect x="245.10" y="191.00" width="1.8" height="1.8" fill="#000"/>
<rect x="245.40" y="196.40" width="1.8" height="1.8" fill="#000"/>
<rect x="252.00" y="200.70" width="1.8" height="1.8" fill="#000"/>
<rect x="227.70" y="203.30" width="1.8" height="1.8" fill="#000"/>
<rect x="236.70" y="205.90" width="1.8" height="1.8" fill="#000"/>
<rect x="244.10" y="205.90" width="1.8" height="1.8" fill="#000"/>
<rect x="252.90" y="206.80" width="1.8" height="1.8" fill="#000"/>
<rect x="242.10" y="211.10" width="1.8" height="1.8" fill="#000"/>
<rect x="240.20" y="215.90" width="1.8" height="1.8" fill="#000"/>
<rect x="250.00" y="216.10" width="1.8" height="1.8" fill="#000"/>
<rect x="242.60" y="220.30" width="1.8" height="1.8" fill="#000"/>
<rect x="236.00" y="222.60" width="1.8" height="1.8" fill="#000"/>
<rect x="246.10" y="223.30" width="1.8" height="1.8" fill="#000"/>
<rect x="253.30" y="221.30" width="1.8" height="1.8" fill="#000"/>
<rect x="244.10" y="230.40" width="1.8" height="1.8" fill="#000"/>
<rect x="232.80" y="231.10" width="1.8" height="1.8" fill="#000"/>
<rect x="222.00" y="237.70" width="1.8" height="1.8" fill="#000"/>
<rect x="246.10" y="243.90" width="1.8" height="1.8" fill="#000"/>
<rect x="258.70" y="189.20" width="1.8" height="1.8" fill="#000"/>
<rect x="254.20" y="205.70" width="1.8" height="1.8" fill="#000"/>
<rect x="257.00" y="204.20" width="1.8" height="1.8" fill="#000"/>
<rect x="259.90" y="206.20" width="1.8" height="1.8" fill="#000"/>
<rect x="262.70" y="202.80" width="1.8" height="1.8" fill="#000"/>
<rect x="266.00" y="202.30" width="1.8" height="1.8" fill="#000"/>
<rect x="263.80" y="206.70" width="1.8" height="1.8" fill="#000"/>
<rect x="264.80" y="205.70" width="1.8" height="1.8" fill="#000"/>
<rect x="267.80" y="204.20" width="1.8" height="1.8" fill="#000"/>
<rect x="268.30" y="205.70" width="1.8" height="1.8" fill="#000"/>
<rect x="267.30" y="206.50" width="1.8" height="1.8" fill="#000"/>
<rect x="271.50" y="204.50" width="1.8" height="1.8" fill="#000"/>
<rect x="274.10" y="203.70" width="1.8" height="1.8" fill="#000"/>
<rect x="271.60" y="208.10" width="1.8" height="1.8" fill="#000"/>
<rect x="260.40" y="210.10" width="1.8" height="1.8" fill="#000"/>
<rect x="269.40" y="209.90" width="1.8" height="1.8" fill="#000"/>
<rect x="275.40" y="210.30" width="1.8" height="1.8" fill="#000"/>
<rect x="276.10" y="209.70" width="1.8" height="1.8" fill="#000"/>
<rect x="282.30" y="209.90" width="1.8" height="1.8" fill="#000"/>
<rect x="268.70" y="212.00" width="1.8" height="1.8" fill="#000"/>
<rect x="282.50" y="213.40" width="1.8" height="1.8" fill="#000"/>
<rect x="281.30" y="216.40" width="1.8" height="1.8" fill="#000"/>
<rect x="263.80" y="214.60" width="1.8" height="1.8" fill="#000"/>
<rect x="269.70" y="215.40" width="1.8" height="1.8" fill="#000"/>
<rect x="256.50" y="215.90" width="1.8" height="1.8" fill="#000"/>
<rect x="250.60" y="216.10" width="1.8" height="1.8" fill="#000"/>
<rect x="255.00" y="219.80" width="1.8" height="1.8" fill="#000"/>
<rect x="253.20" y="221.30" width="1.8" height="1.8" fill="#000"/>
<rect x="260.10" y="219.80" width="1.8" height="1.8" fill="#000"/>
<rect x="267.80" y="220.50" width="1.8" height="1.8" fill="#000"/>
<rect x="272.70" y="218.30" width="1.8" height="1.8" fill="#000"/>
<rect x="273.70" y="219.00" width="1.8" height="1.8" fill="#000"/>
<rect x="297.30" y="195.40" width="1.8" height="1.8" fill="#000"/>
<rect x="315.30" y="196.30" width="1.8" height="1.8" fill="#000"/>
<rect x="300.70" y="202.30" width="1.8" height="1.8" fill="#000"/>
<rect x="309.10" y="201.30" width="1.8" height="1.8" fill="#000"/>
<rect x="315.70" y="202.20" width="1.8" height="1.8" fill="#000"/>
<rect x="304.50" y="205.50" width="1.8" height="1.8" fill="#000"/>
<rect x="291.10" y="206.10" width="1.8" height="1.8" fill="#000"/>
<rect x="291.10" y="209.00" width="1.8" height="1.8" fill="#000"/>
<rect x="287.50" y="207.50" width="1.8" height="1.8" fill="#000"/>
<rect x="288.20" y="208.20" width="1.8" height="1.8" fill="#000"/>
<rect x="298.30" y="208.20" width="1.8" height="1.8" fill="#000"/>
<rect x="300.70" y="207.60" width="1.8" height="1.8" fill="#000"/>
<rect x="300.30" y="209.00" width="1.8" height="1.8" fill="#000"/>
<rect x="306.60" y="208.90" width="1.8" height="1.8" fill="#000"/>
<rect x="313.70" y="208.90" width="1.8" height="1.8" fill="#000"/>
<rect x="313.60" y="210.10" width="1.8" height="1.8" fill="#000"/>
<rect x="282.60" y="209.80" width="1.8" height="1.8" fill="#000"/>
<rect x="288.00" y="210.90" width="1.8" height="1.8" fill="#000"/>
<rect x="290.90" y="212.80" width="1.8" height="1.8" fill="#000"/>
<rect x="292.40" y="214.40" width="1.8" height="1.8" fill="#000"/>
<rect x="290.00" y="217.70" width="1.8" height="1.8" fill="#000"/>
<rect x="303.50" y="211.80" width="1.8" height="1.8" fill="#000"/>
<rect x="300.50" y="220.00" width="1.8" height="1.8" fill="#000"/>
<rect x="312.00" y="216.40" width="1.8" height="1.8" fill="#000"/>
<rect x="320.80" y="209.70" width="1.8" height="1.8" fill="#000"/>
<rect x="322.90" y="210.20" width="1.8" height="1.8" fill="#000"/>
<rect x="252.80" y="206.70" width="1.8" height="1.8" fill="#000"/>
</svg>
</body></html>
